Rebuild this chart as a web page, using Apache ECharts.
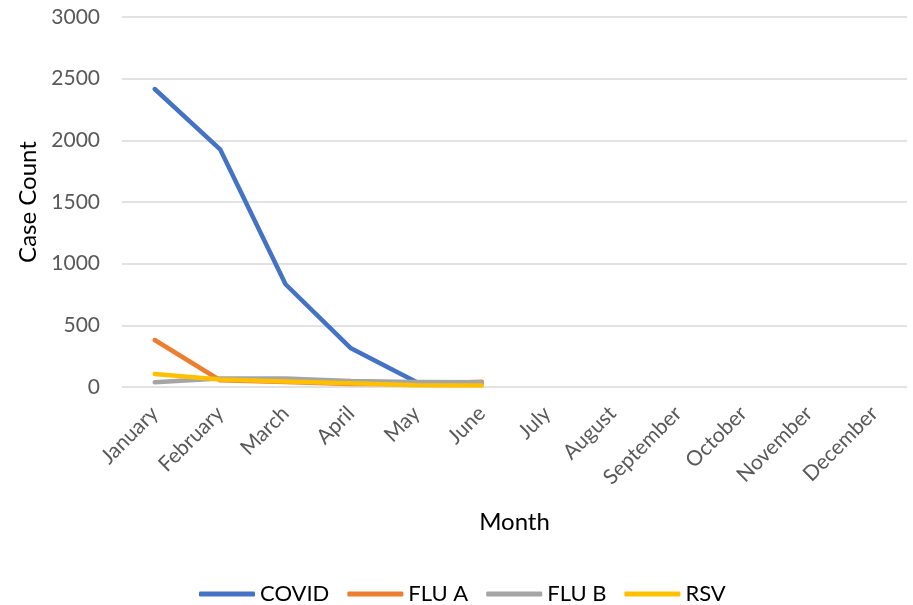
<!DOCTYPE html>
<html>
<head>
<meta charset="utf-8">
<script src="https://cdn.jsdelivr.net/npm/echarts@6/dist/echarts.min.js"></script>
<style>html,body{margin:0;padding:0;background:#fff;}#c{width:913px;height:605px;}</style>
</head>
<body>
<div id="c"></div>
<script>
const months = ['January','February','March','April','May','June','July','August','September','October','November','December'];
const covid = [2416, 1927, 833, 314, 40, 35];
const fluA = [381, 55, 40, 25, 25, 42];
const fluB = [38, 68, 68, 48, 40, 38];
const rsv = [105, 60, 45, 30, 14, 12];
const yTicks = [0, 500, 1000, 1500, 2000, 2500, 3000];

const FONT = 'Lato';
const chart = echarts.init(document.getElementById('c'), null, {renderer: 'canvas'});
function ser(name, data, color) {
  return {
    name, type: 'line', data, showSymbol: false, symbol: 'none',
    lineStyle: {color, width: 4.5, cap: 'round', join: 'round'},
    itemStyle: {color},
    animation: false
  };
}
chart.setOption({
  animation: false,
  textStyle: {fontFamily: FONT},
  grid: {left: 122, right: 6, top: 17, bottom: 218, containLabel: false, outerBoundsMode: 'none'},
  xAxis: {
    type: 'category', data: months, boundaryGap: true,
    axisLine: {show: false}, axisTick: {show: false},
    axisLabel: {rotate: 45, color: '#595959', fontSize: 21, fontFamily: FONT, margin: 23, interval: 0},
    name: 'Month', nameLocation: 'middle', nameGap: 123,
    nameTextStyle: {color: '#000', fontSize: 24, fontFamily: FONT}
  },
  yAxis: {
    type: 'value', min: yTicks[0], max: yTicks[yTicks.length - 1], interval: yTicks[1] - yTicks[0],
    axisLine: {show: false}, axisTick: {show: false},
    splitLine: {lineStyle: {color: '#d9d9d9', width: 1.5}},
    axisLabel: {color: '#595959', fontSize: 21, fontFamily: FONT, margin: 22, formatter: v => String(v)},
    name: 'Case Count', nameLocation: 'middle', nameGap: 80, nameRotate: 90,
    nameTextStyle: {color: '#000', fontSize: 24, fontFamily: FONT}
  },
  legend: {
    left: 194, top: 578, icon: 'roundRect', itemWidth: 56, itemHeight: 5, itemGap: 18,
    textStyle: {color: '#000', fontSize: 22, fontFamily: FONT},
    data: ['COVID', 'FLU A', 'FLU B', 'RSV']
  },
  series: [
    ser('COVID', covid, '#4472C4'),
    ser('FLU A', fluA, '#ED7D31'),
    ser('FLU B', fluB, '#A5A5A5'),
    ser('RSV', rsv, '#FFC000')
  ]
});
</script>
</body>
</html>
